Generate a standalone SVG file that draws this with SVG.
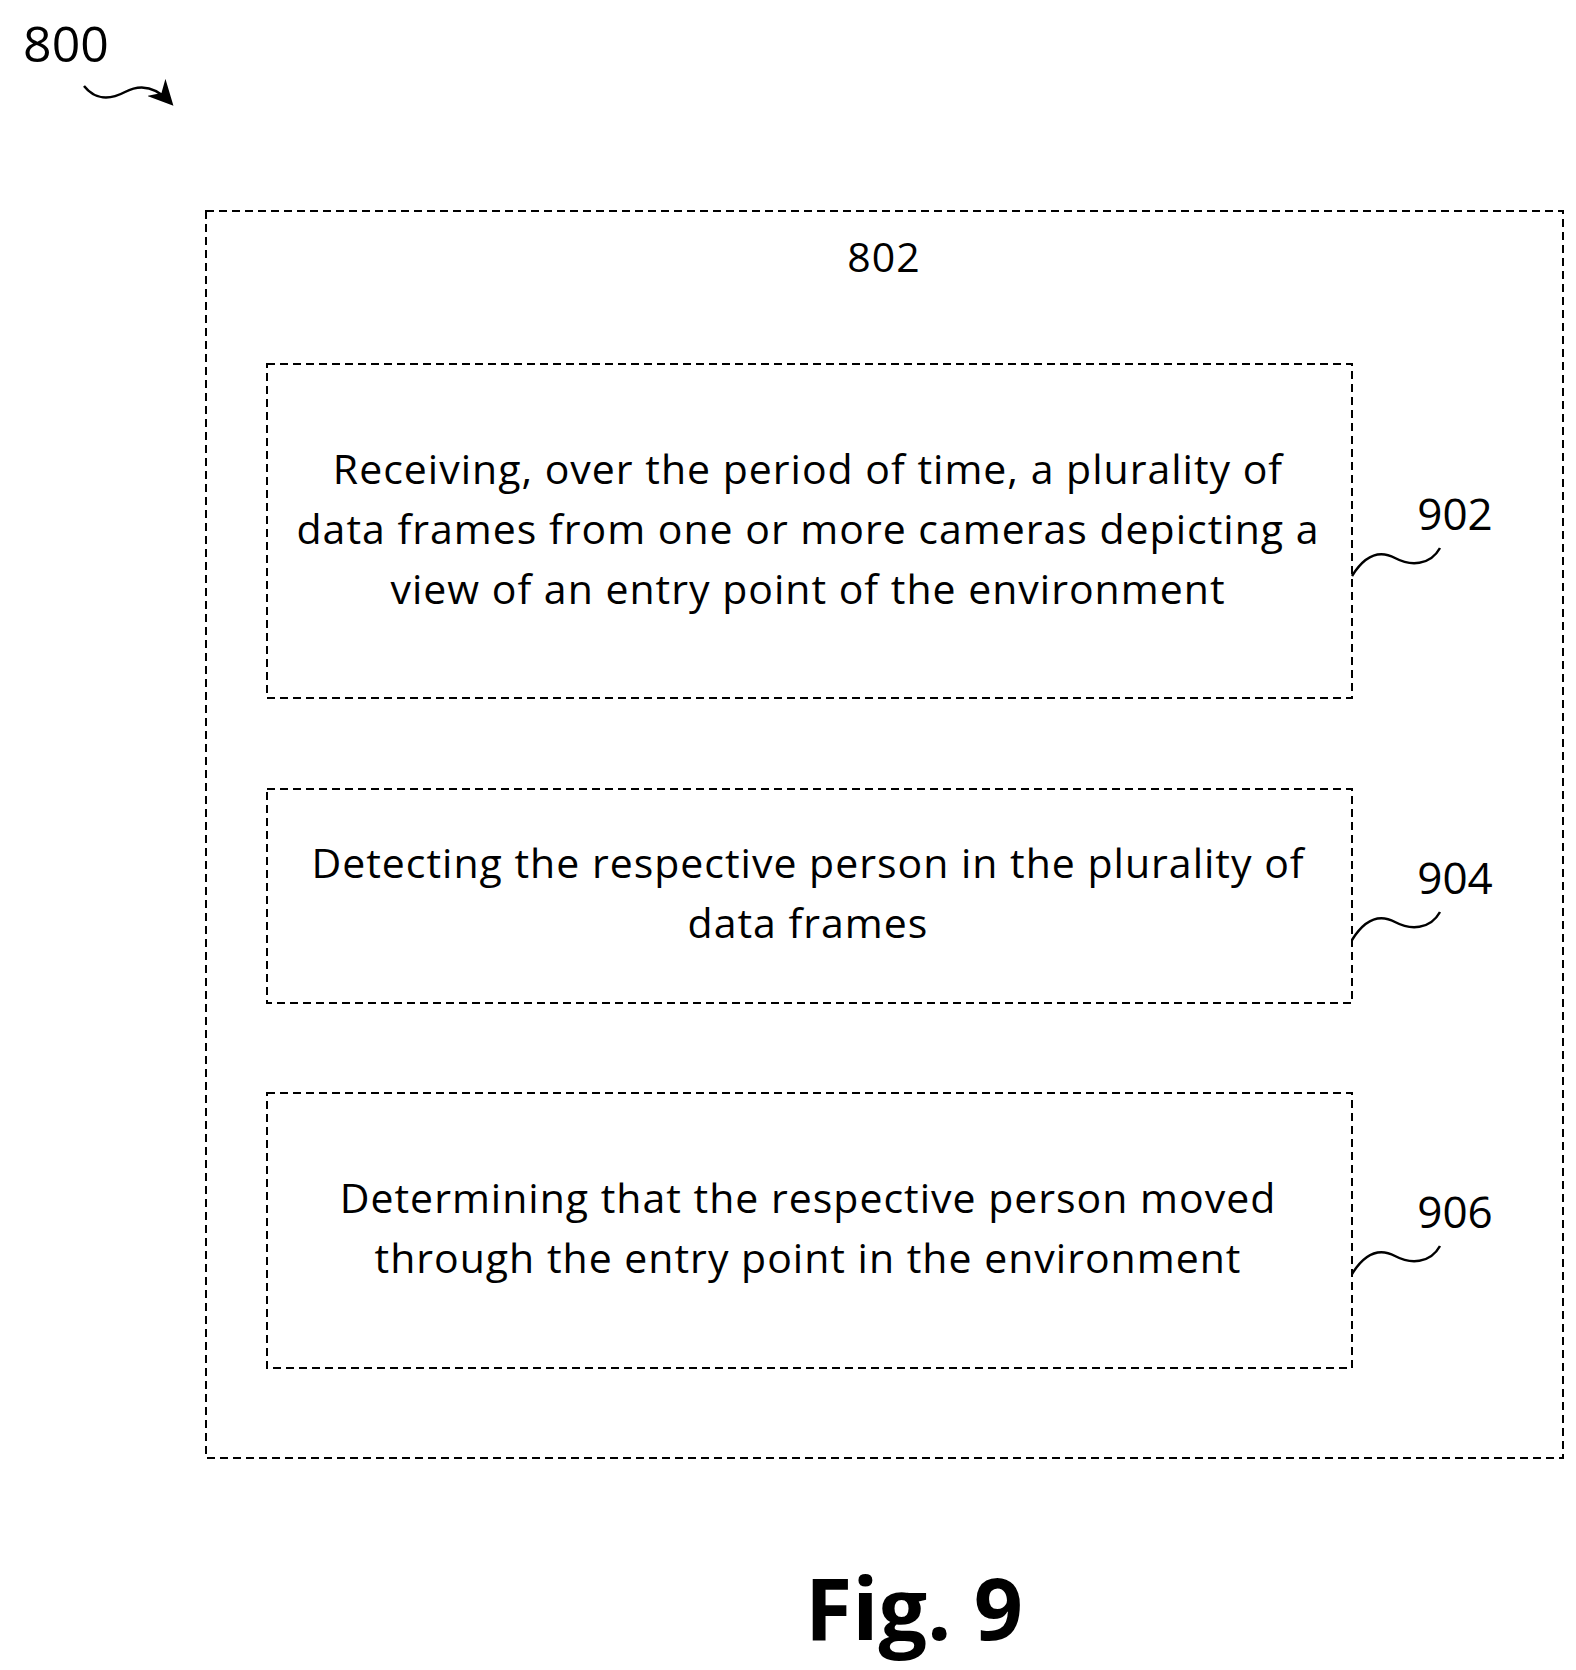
<svg xmlns="http://www.w3.org/2000/svg" width="1576" height="1670" viewBox="0 0 1576 1670">
<style>
.box{fill:none;stroke:#000;stroke-width:2;stroke-dasharray:8,5}
.t{font-family:"Open Sans","Liberation Sans",sans-serif;font-size:41px;fill:#000;text-anchor:middle;letter-spacing:1px}
.n{font-family:"Open Sans","Liberation Sans",sans-serif;font-size:44px;fill:#000;text-anchor:middle}
.sq{fill:none;stroke:#000;stroke-width:2.5}
</style>
<defs><marker id="ah" markerWidth="10" markerHeight="10" refX="8" refY="5" orient="auto"><path d="M0,0 L10,5 L0,10 L3,5 Z" fill="#000"/></marker></defs>
<rect width="1576" height="1670" fill="#fff"/>
<g id="label800"><text x="66" y="62" class="n" style="font-size:50px">800</text></g>
<g id="n802"><rect class="box" x="206" y="211" width="1357" height="1247"/><text x="884" y="272" class="t">802</text></g>
<g id="n902"><rect class="box" x="267" y="364" width="1085" height="334"/>
<text class="t" x="808" y="484">Receiving, over the period of time, a plurality of</text>
<text class="t" x="808" y="544">data frames from one or more cameras depicting a</text>
<text class="t" x="808" y="604">view of an entry point of the environment</text>
<text class="n" x="1455" y="530">902</text></g>
<g id="n904"><rect class="box" x="267" y="789" width="1085" height="214"/>
<text class="t" x="808" y="878">Detecting the respective person in the plurality of</text>
<text class="t" x="808" y="938">data frames</text>
<text class="n" x="1455" y="894">904</text></g>
<g id="n906"><rect class="box" x="267" y="1093" width="1085" height="275"/>
<text class="t" x="808" y="1213">Determining that the respective person moved</text>
<text class="t" x="808" y="1273">through the entry point in the environment</text>
<text class="n" x="1455" y="1228">906</text></g>
<g id="fig"><text x="914" y="1640" style="font-family:'Open Sans','Liberation Sans',sans-serif;font-size:86px;font-weight:bold;text-anchor:middle">Fig. 9</text></g>
<g id="connectors">
<path class="sq" d="M84,86 C95,100 110,100 125,92 C140,84 155,86 170,102" marker-end="url(#ah)"/>
<path class="sq" d="M1352,576 C1365,555 1380,550 1395,558 C1410,566 1430,566 1440,548"/>
<path class="sq" d="M1352,940 C1365,919 1380,914 1395,922 C1410,930 1430,930 1440,912"/>
<path class="sq" d="M1352,1274 C1365,1253 1380,1248 1395,1256 C1410,1264 1430,1264 1440,1246"/>
</g>
</svg>
